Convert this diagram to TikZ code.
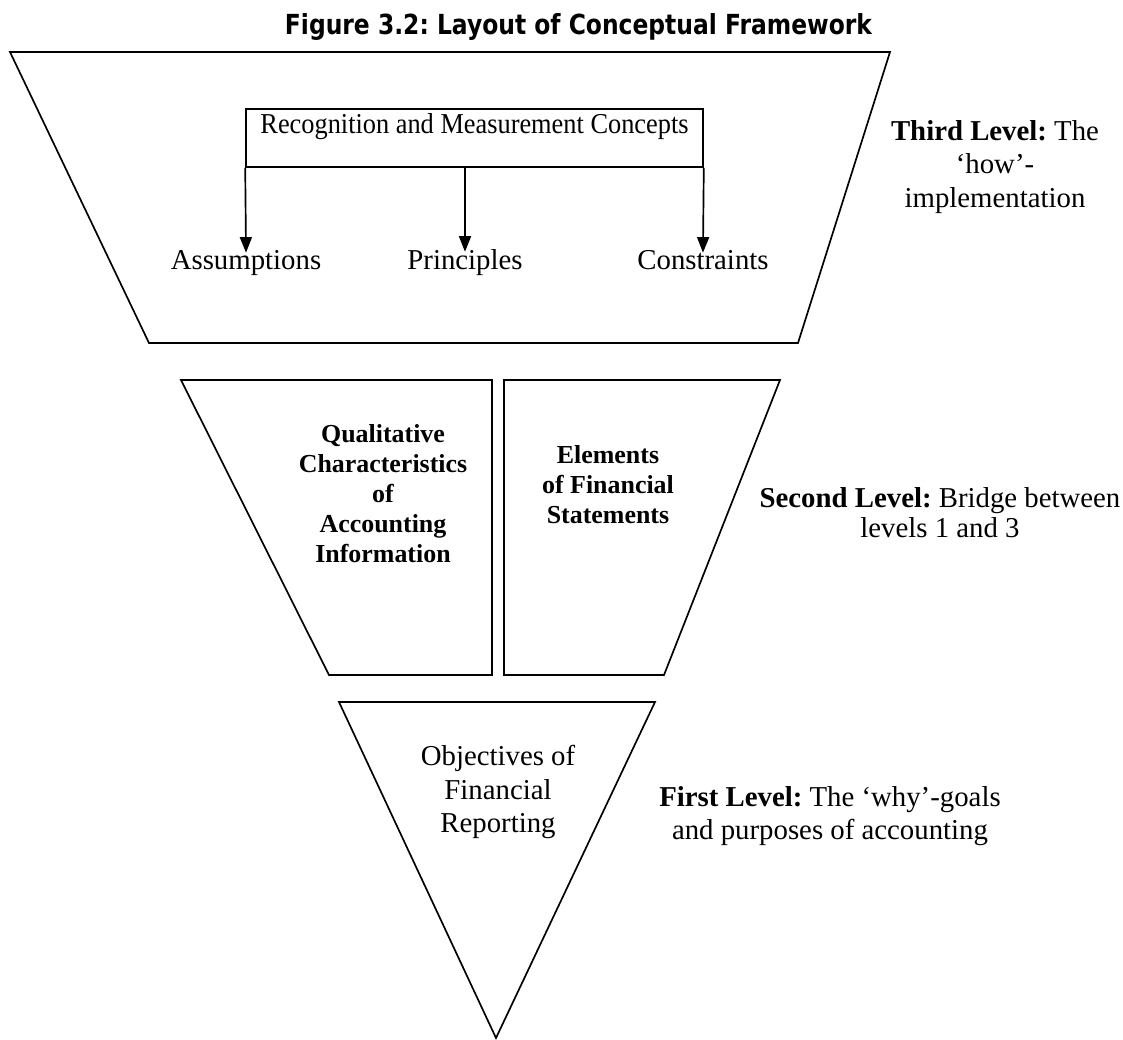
\documentclass[tikz,border=0pt]{standalone}
\usepackage{graphicx}
\usepackage{fontspec}
\setmainfont{Liberation Serif}
\newfontfamily\titlefont{DejaVu Sans}
\usetikzlibrary{arrows.meta}
\frenchspacing

\begin{document}
\begin{tikzpicture}[x=0.4167pt, y=-0.4167pt, >={Triangle[length=6.5pt,width=5pt]}, line width=0.7pt,
  lbl/.style={inner sep=0pt, font=\fontsize{12}{14}\selectfont},
  txt/.style={align=center, inner sep=0pt, font=\fontsize{12}{14}\selectfont},
  boldtxt/.style={align=center, inner sep=0pt, font=\fontsize{10.8}{12.5}\selectfont\bfseries}]
\useasboundingbox (0,0) rectangle (1123,1040);

\node[anchor=base, inner sep=0pt] (title) at (578.5,35)
  {\resizebox{244.6pt}{8.75pt}{\titlefont\bfseries Figure 3.2: Layout of Conceptual Framework}};

% third level
\draw (10,52) -- (890,52) -- (798,343) -- (149,343) -- cycle;
\node[draw, inner sep=0pt, minimum width=190.4pt, text height=10.4pt, text depth=13.75pt,
  anchor=base, font=\fontsize{12}{14}\selectfont] (rmc) at (474.5,134)
  {\scalebox{0.915}[1]{Recognition and Measurement Concepts}};

\node[lbl, anchor=base] (assum) at (246,269) {Assumptions};
\node[lbl, anchor=base] (princ) at (465,269) {Principles};
\node[lbl, anchor=base] (constr) at (703,269) {Constraints};

\draw[->, shorten >=-1.5pt] (rmc.south west) -- (assum.north);
\draw[->, shorten >=-1.5pt] (rmc.south -| princ.north) -- (princ.north);
\draw[->, shorten >=-1.5pt] (rmc.south east) -- (constr.north);

\node[txt] (lvl3) at (995,167) {\textbf{Third Level:} The\\ `how'-\\ implementation};

% second level
\draw (181,380) -- (492,380) -- (492,675) -- (329,675) -- cycle;
\draw (504,380) -- (780,380) -- (664,675) -- (504,675) -- cycle;
\node[boldtxt] (qual) at (383,494) {Qualitative\\ Characteristics\\ of\\ Accounting\\ Information};
\node[boldtxt] (elem) at (608,485) {Elements\\ of Financial\\ Statements};
\node[txt, font=\fontsize{12}{12.6}\selectfont] (lvl2) at (940,513) {\textbf{Second Level:} Bridge between\\ levels 1 and 3};

% first level
\draw (339,702) -- (655,702) -- (496,1038) -- cycle;
\node[txt] (obj) at (498,792) {Objectives of\\ Financial\\ Reporting};
\node[txt] (lvl1) at (830,816) {\textbf{First Level:} The `why'-goals\\ and purposes of accounting};
\end{tikzpicture}
\end{document}
